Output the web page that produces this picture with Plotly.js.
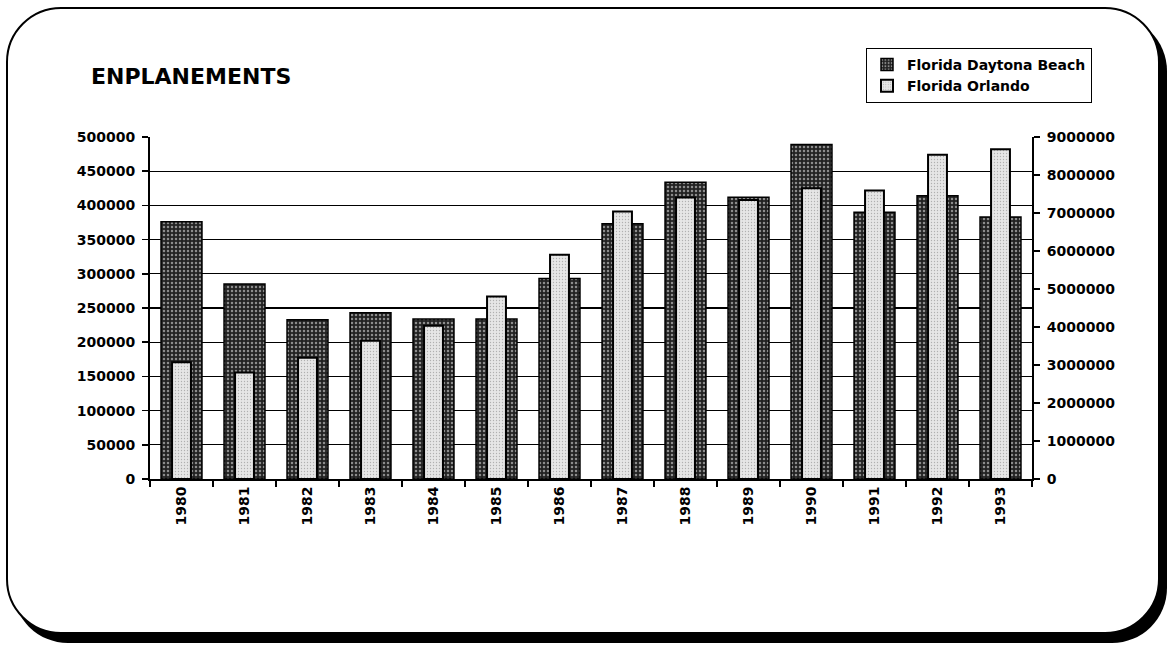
<!DOCTYPE html>
<html>
<head>
<meta charset="utf-8">
<script src="https://cdn.plot.ly/plotly-3.0.1.min.js"></script>
<style>
  html, body { margin:0; padding:0; background:#fff; }
  #wrap { position:relative; width:1171px; height:646px; overflow:hidden; background:#fff; }
  #frame { position:absolute; left:6px; top:7px; width:1150px; height:623px;
           border:2px solid #000; border-radius:55px; box-shadow:7px 9px 0 #000; background:#fff; }
  #chart { position:absolute; left:0; top:0; width:1171px; height:646px; }
</style>
</head>
<body>
<div id="wrap">
  <div id="frame"></div>
  <div id="chart"></div>
</div>
<script>
const years = ["1980","1981","1982","1983","1984","1985","1986","1987","1988","1989","1990","1991","1992","1993"];
const daytonaBeach = [376000, 285000, 233000, 243000, 234000, 234000, 293000, 373000, 434000, 412000, 489000, 390000, 414000, 383000];
const orlando = [3070000, 2800000, 3190000, 3640000, 4030000, 4800000, 5900000, 7040000, 7410000, 7340000, 7650000, 7590000, 8530000, 8680000];
const leftTicks = [0,50000,100000,150000,200000,250000,300000,350000,400000,450000,500000];
const rightTicks = [0,1000000,2000000,3000000,4000000,5000000,6000000,7000000,8000000,9000000];

const FONT = "DejaVu Sans, Arial, sans-serif";

const traces = [
  {
    type:'bar', name:'Florida Daytona Beach', x:years, y:daytonaBeach, yaxis:'y',
    width:0.65,
    marker:{color:'#262626', line:{color:'#000', width:1.5},
      pattern:{shape:'.', fillmode:'replace', bgcolor:'#222222', fgcolor:'#8c8c8c', size:4, solidity:0.3}}
  },
  {
    type:'bar', name:'Florida Orlando', x:years, y:orlando, yaxis:'y2',
    width:0.3,
    marker:{color:'#e4e4e4', line:{color:'#000', width:2},
      pattern:{shape:'.', fillmode:'replace', bgcolor:'#e6e6e6', fgcolor:'#b0b0b0', size:3, solidity:0.15}}
  }
];

const layout = {
  width:1171, height:646,
  paper_bgcolor:'rgba(0,0,0,0)', plot_bgcolor:'rgba(0,0,0,0)',
  margin:{l:150, r:139, t:137, b:167, pad:0},
  barmode:'overlay',
  showlegend:true,
  font:{family:FONT, color:'#000', size:14, weight:'bold'},
  title:{text:'ENPLANEMENTS', x:91/1171, xanchor:'left', xref:'container',
         y:1-76/646, yanchor:'middle', yref:'container',
         font:{family:FONT, size:22, weight:'bold', color:'#000'}},
  xaxis:{type:'category', tickson:'boundaries', ticks:'outside', ticklen:6, tickwidth:1.5, tickcolor:'#000',
         showline:true, linecolor:'#000', linewidth:2, tickangle:-90,
         tickfont:{family:FONT, size:14, weight:'bold'}, showgrid:false, zeroline:false},
  yaxis:{range:[0,500000], tickvals:leftTicks, ticktext:leftTicks.map(String), ticks:'outside', ticklen:6, tickwidth:1.5, tickcolor:'#000',
         showline:true, linecolor:'#000', linewidth:2, showgrid:true, gridcolor:'#000', gridwidth:1.2,
         zeroline:false, tickfont:{family:FONT, size:14, weight:'bold'}, ticklabelstandoff:4},
  yaxis2:{range:[0,9000000], tickvals:rightTicks, ticktext:rightTicks.map(String), overlaying:'y', side:'right',
         ticks:'outside', ticklen:6, tickwidth:1.5, tickcolor:'#000',
         showline:true, linecolor:'#000', linewidth:2, showgrid:false, zeroline:false,
         tickfont:{family:FONT, size:14, weight:'bold'}, ticklabelstandoff:4},
  legend:{x:(866-150)/882, xanchor:'left', y:(479-48)/342, yanchor:'top',
          bordercolor:'#000', borderwidth:1, bgcolor:'#fff',
          font:{family:FONT, size:14, weight:'bold'}, itemwidth:30, tracegroupgap:6,
          traceorder:'normal'}
};

Plotly.newPlot('chart', traces, layout, {staticPlot:true, displayModeBar:false});
</script>
</body>
</html>
